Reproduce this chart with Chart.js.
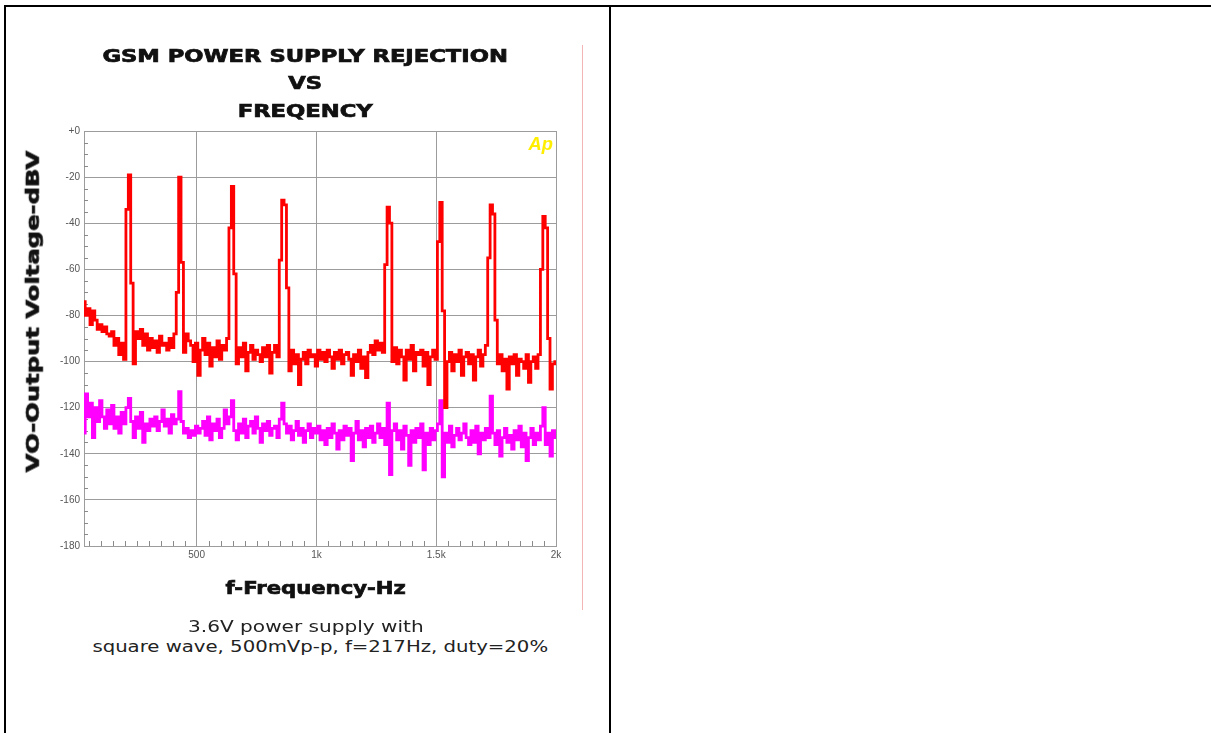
<!DOCTYPE html>
<html>
<head>
<meta charset="utf-8">
<script src="https://cdn.jsdelivr.net/npm/chart.js@4.4.0/dist/chart.umd.min.js"></script>
<style>
  body { margin:0; background:#fff; width:1211px; height:733px; overflow:hidden; position:relative; font-family:'DejaVu Sans', sans-serif; }
  .rule { position:absolute; background:#000; }
  .txt { position:absolute; white-space:nowrap; transform-origin:center center; }
  .heavy { font-weight:bold; color:#111; font-size:18px; -webkit-text-stroke:0.7px #111; }
  .cap { color:#222; font-size:16px; }
  #psrr { position:absolute; left:0; top:0; }
</style>
</head>
<body>
<div class="rule" style="left:4px;top:5px;width:1207px;height:2px"></div>
<div class="rule" style="left:4px;top:5px;width:2px;height:728px"></div>
<div class="rule" style="left:609px;top:5px;width:2px;height:728px"></div>
<div style="position:absolute;left:582px;top:45px;width:1px;height:565px;background:#f3b5b5"></div>

<canvas id="psrr" width="600" height="600"></canvas>

<div class="txt heavy" data-cx="305" data-cy="84" data-w="405" style="font-size:17px;line-height:27.5px;text-align:center">GSM POWER SUPPLY REJECTION<br>VS<br>FREQENCY</div>
<div class="txt heavy" data-cx="32" data-cy="311" data-w="322" data-rot="-90">VO-Output Voltage-dBV</div>
<div class="txt heavy" data-cx="315" data-cy="587" data-w="180">f-Frequency-Hz</div>
<div class="txt" data-cx="540" data-cy="144" data-w="24" style="color:#ffee00;font:italic bold 19px 'Liberation Sans', sans-serif">Ap</div>
<div class="txt cap" data-cx="306" data-cy="626" data-w="236">3.6V power supply with</div>
<div class="txt cap" data-cx="320" data-cy="646" data-w="455">square wave, 500mVp-p, f=217Hz, duty=20%</div>

<script>
// frequency bins of the analyser trace
const freqStartHz = 30;
const freqStepHz = 10;

const xTickHz = [500, 1000, 1500, 2000];
const xTickLabels = ['500', '1k', '1.5k', '2k'];

// red trace: output with the 217Hz supply ripple (dBV)
const rippleOutDbv = [
  -74,-80,-77,-84,-78,-82,-86,-84,-87,-85,
  -88,-89,-87,-93,-90,-97,-92,-99,-34,-19,
  -66,-101,-87,-90,-86,-93,-88,-95,-90,-94,
  -91,-96,-89,-93,-92,-95,-90,-94,-88,-70,
  -20,-57,-96,-88,-91,-93,-100,-92,-106,-95,
  -90,-97,-92,-102,-94,-98,-91,-99,-93,-95,
  -90,-42,-24,-62,-101,-94,-98,-92,-104,-96,
  -93,-99,-95,-97,-100,-94,-98,-93,-105,-96,
  -93,-98,-56,-30,-32,-68,-104,-95,-101,-97,
  -110,-99,-96,-101,-95,-98,-97,-102,-95,-99,
  -96,-100,-95,-98,-103,-96,-99,-95,-101,-97,
  -96,-99,-106,-97,-100,-95,-103,-98,-107,-96,
  -93,-97,-91,-95,-92,-96,-58,-33,-40,-100,
  -94,-101,-95,-98,-108,-95,-99,-93,-104,-96,
  -97,-95,-102,-96,-110,-98,-95,-99,-48,-31,
  -78,-120,-100,-96,-104,-97,-100,-95,-106,-98,
  -96,-101,-97,-108,-98,-95,-102,-97,-93,-55,
  -32,-36,-82,-101,-97,-104,-99,-112,-98,-101,
  -97,-106,-99,-100,-103,-97,-109,-100,-98,-103,
  -97,-60,-37,-42,-90,-112,-101,-100
];

// magenta trace: output floor (dBV)
const floorDbv = [
  -131,-114,-124,-118,-133,-120,-126,-117,-124,-129,
  -121,-127,-119,-129,-124,-131,-122,-127,-120,-116,
  -126,-133,-124,-129,-122,-135,-127,-130,-125,-128,
  -124,-130,-126,-121,-128,-125,-131,-123,-127,-125,
  -113,-126,-131,-129,-133,-130,-132,-128,-131,-129,
  -126,-132,-124,-134,-127,-130,-125,-133,-129,-121,
  -127,-124,-117,-130,-134,-127,-131,-125,-133,-128,
  -126,-131,-124,-129,-135,-127,-130,-126,-132,-129,
  -128,-133,-125,-118,-127,-131,-128,-134,-130,-126,
  -132,-129,-135,-130,-127,-133,-129,-131,-128,-134,
  -130,-136,-129,-133,-127,-131,-138,-130,-134,-128,
  -132,-129,-143,-131,-126,-134,-130,-137,-129,-133,
  -128,-135,-131,-127,-133,-129,-136,-118,-149,-130,
  -127,-134,-130,-138,-128,-132,-145,-130,-135,-129,
  -133,-127,-147,-131,-136,-129,-134,-130,-127,-117,
  -150,-131,-135,-128,-137,-132,-129,-134,-131,-127,
  -133,-136,-130,-135,-128,-140,-131,-134,-129,-133,
  -115,-131,-136,-130,-141,-133,-129,-135,-132,-138,
  -130,-134,-128,-137,-131,-143,-133,-129,-136,-131,
  -134,-128,-120,-136,-131,-141,-130,-133
];

function toPoints(vals) {
  return vals.map((v, i) => ({ x: freqStartHz + i * freqStepHz, y: v }));
}

const gridGray = '#9c9c9c';
const tickFont = { family: 'Liberation Sans', size: 10 };

// small inside ticks: 5 dB on the left edge, 50 Hz along the bottom
const minorTicks = {
  id: 'minorTicks',
  beforeDatasetsDraw(chart) {
    const { ctx, chartArea, scales: { x, y } } = chart;
    ctx.save();
    ctx.strokeStyle = '#8a8a8a';
    ctx.lineWidth = 1;
    ctx.beginPath();
    for (let v = -175; v < 0; v += 5) {
      if (v % 20 === 0) continue;
      const py = Math.round(y.getPixelForValue(v)) + 0.5;
      ctx.moveTo(chartArea.left, py);
      ctx.lineTo(chartArea.left + 4, py);
    }
    for (let f = 50; f < 2000; f += 50) {
      if (f % 500 === 0) continue;
      const px = Math.round(x.getPixelForValue(f)) + 0.5;
      ctx.moveTo(px, chartArea.bottom);
      ctx.lineTo(px, chartArea.bottom - 5);
    }
    ctx.stroke();
    ctx.restore();
  }
};

new Chart(document.getElementById('psrr'), {
  type: 'line',
  data: {
    datasets: [
      { data: toPoints(rippleOutDbv), borderColor: '#ff0000', borderWidth: 2.8, pointRadius: 0, stepped: 'middle', fill: false },
      { data: toPoints(floorDbv), borderColor: '#ff00ff', borderWidth: 2.8, pointRadius: 0, stepped: 'middle', fill: false }
    ]
  },
  options: {
    responsive: false,
    animation: false,
    events: [],
    layout: { padding: { left: 0, top: 131, right: 44, bottom: 0 } },
    plugins: { legend: { display: false }, tooltip: { enabled: false } },
    scales: {
      x: {
        type: 'linear', min: 30, max: 2000,
        afterFit: s => { s.height = 54; },
        afterBuildTicks: s => { s.ticks = xTickHz.map(v => ({ value: v })); },
        ticks: { callback: v => xTickLabels[xTickHz.indexOf(v)], color: '#555', font: tickFont, padding: 3, maxRotation: 0, autoSkip: false },
        grid: { color: gridGray, drawTicks: false },
        border: { display: true, color: gridGray }
      },
      y: {
        min: -180, max: 0,
        afterFit: s => { s.width = 84; },
        ticks: { stepSize: 20, callback: v => v === 0 ? '+0' : String(v), color: '#555', font: tickFont, padding: 4 },
        grid: { color: gridGray, drawTicks: false },
        border: { display: true, color: gridGray }
      }
    }
  },
  plugins: [minorTicks]
});

// place the text blocks, stretching them to the widths of the original lettering
document.querySelectorAll('.txt').forEach(el => {
  const w0 = el.offsetWidth, h0 = el.offsetHeight;
  const sx = (+el.dataset.w) / w0;
  el.style.left = (+el.dataset.cx - w0 / 2) + 'px';
  el.style.top = (+el.dataset.cy - h0 / 2) + 'px';
  const rot = el.dataset.rot ? `rotate(${el.dataset.rot}deg) ` : '';
  el.style.transform = rot + `scaleX(${sx.toFixed(3)})`;
});
</script>
</body>
</html>
